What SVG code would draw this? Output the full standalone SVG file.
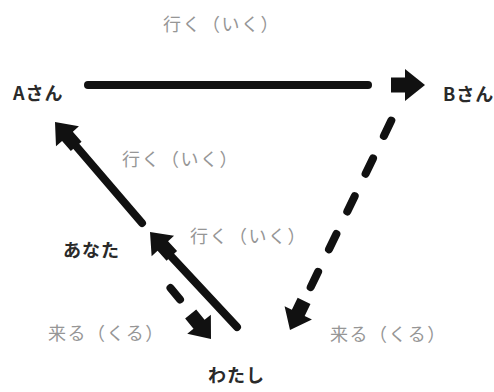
<svg xmlns="http://www.w3.org/2000/svg" width="494" height="392" viewBox="0 0 494 392">
<style>
  .lbl { font-family: "Noto Sans CJK JP", "Noto Sans", sans-serif; font-size: 18px; font-weight: bold; fill: #2a2a2a; letter-spacing: 1px; }
  .verb { font-family: "Noto Sans CJK JP", "Noto Sans", sans-serif; font-size: 18px; fill: #969696; letter-spacing: 1.5px; }
  .ln { stroke: #111; stroke-width: 8; fill: none; stroke-linecap: round; }
  .dash { stroke-dasharray: 17 25; }
  .head { fill: #111; }
</style>
<defs>
  <polygon id="ah" points="-34,-7.5 -20,-7.5 -20,-16 0,0 -20,16 -20,7.5 -34,7.5"/>
</defs>
<rect width="494" height="392" fill="#fff"/>
<g id="connectors">
  <line class="ln" x1="88" y1="85" x2="368" y2="85"/>
  <use href="#ah" class="head" transform="translate(425,85)"/>
  <line class="ln dash" x1="391.3" y1="120.6" x2="303.5" y2="302"/>
  <use href="#ah" class="head" transform="translate(290,330) rotate(115.8) scale(0.95)"/>
  <line class="ln" x1="142" y1="223" x2="76" y2="146" stroke-linecap="butt"/>
  <use href="#ah" class="head" transform="translate(55,122) rotate(229) scale(0.95)"/>
  <line class="ln" x1="237" y1="327" x2="168" y2="253"/>
  <use href="#ah" class="head" transform="translate(150,232) rotate(227.5) scale(0.95)"/>
  <line class="ln" x1="170.5" y1="288" x2="180" y2="299.5"/>
  <use href="#ah" class="head" transform="translate(211,339) rotate(51) scale(0.95)"/>
</g>
<g id="node-a"><text class="lbl" x="13" y="100">Aさん</text></g>
<g id="node-b"><text class="lbl" x="443" y="101">Bさん</text></g>
<g id="node-anata"><text class="lbl" x="63" y="257">あなた</text></g>
<g id="node-watashi"><text class="lbl" x="208" y="382">わたし</text></g>
<g id="labels">
  <text class="verb" x="163" y="31">行く（いく）</text>
  <text class="verb" x="122" y="166">行く（いく）</text>
  <text class="verb" x="190" y="243">行く（いく）</text>
  <text class="verb" x="48" y="340">来る（くる）</text>
  <text class="verb" x="330" y="341">来る（くる）</text>
</g>
</svg>
